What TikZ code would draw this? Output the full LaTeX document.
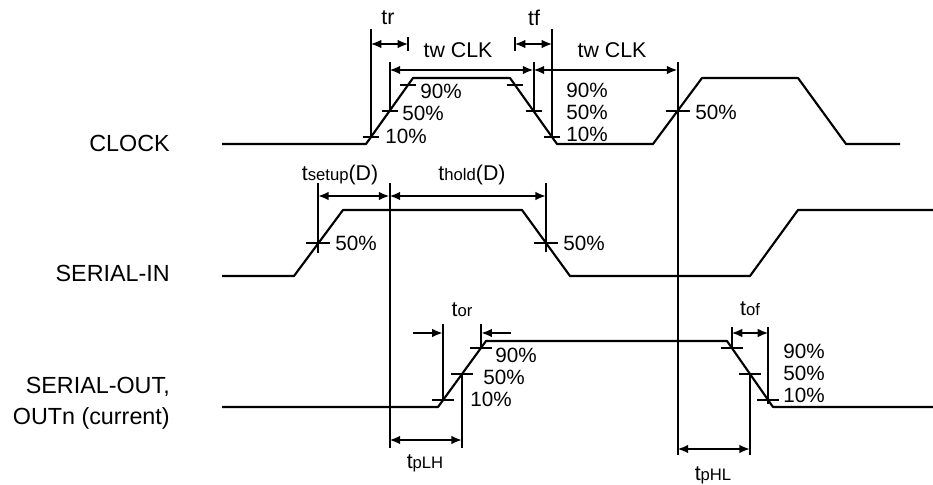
\documentclass[tikz,border=0pt]{standalone}
\usepackage{fontspec}
\setmainfont{Liberation Sans}
\usetikzlibrary{arrows.meta}
\newcommand{\smallsub}[1]{{\fontsize{12.5}{13}\selectfont #1}}
\begin{document}
\begin{tikzpicture}[x=0.75pt,y=-0.75pt,
  wave/.style={line width=1.6pt, line join=round},
  dim/.style={line width=1.5pt},
  dimarr/.style={dim, {Latex[length=8pt,width=6.5pt]}-{Latex[length=8pt,width=6.5pt]}},
  onearr/.style={dim, -{Latex[length=8pt,width=6.5pt]}},
  pct/.style={font=\fontsize{15.5}{16}\selectfont, inner sep=0pt, anchor=west},
  tlbl/.style={font=\fontsize{16}{17}\selectfont, inner sep=0pt},
  sig/.style={font=\fontsize{17.5}{20}\selectfont, inner sep=0pt, anchor=east}]
\useasboundingbox (0,0) rectangle (933,485);

% ---------- signal names ----------
\node[sig] (lclock) at (170,143) {CLOCK};
\node[sig] (lsin) at (170,273) {SERIAL-IN};
\node[sig] (lsout) at (170,387) {SERIAL-OUT,};
\node[sig] (louts) at (170,418) {OUTn (current)};

% ---------- CLOCK waveform ----------
\coordinate (c0) at (222,144);
\coordinate (c1) at (366,144);
\coordinate (c2) at (413,78);
\coordinate (c3) at (510,78);
\coordinate (c4) at (557,144);
\coordinate (c5) at (653,144);
\coordinate (c6) at (702,78);
\coordinate (c7) at (798,78);
\coordinate (c8) at (846,144);
\coordinate (c9) at (900,144);
\draw[wave] (c0) -- (c1) -- (c2) -- (c3) -- (c4) -- (c5) -- (c6) -- (c7) -- (c8) -- (c9);

\coordinate (r10) at (370.7,137.4);
\coordinate (r50) at (389.5,111);
\coordinate (r90) at (408.3,84.6);
\coordinate (f90) at (514.7,84.6);
\coordinate (f50) at (533.5,111);
\coordinate (f10) at (552.3,137.4);
\coordinate (q50) at (677.5,111);
\foreach \p in {r10,r50,r90,f90,f50,f10} \draw[dim] (\p) ++(-8,0) -- ++(16,0);
\draw[dim] (q50) ++(-12,0) -- ++(24,0);

% tr
\coordinate (trt) at (370.7,29);
\coordinate (trr) at (408.3,37);
\coordinate (trrb) at (408.3,51);
\coordinate (tra) at (370.7,44);
\coordinate (trb) at (408.3,44);
\draw[dim] (trt) -- (r10);
\draw[dim] (trr) -- (trrb);
\draw[dimarr] (tra) -- (trb);
\node[tlbl] (ltr) at (388,18) {tr};

% tf
\coordinate (tft) at (552.3,29);
\coordinate (tfl) at (514.7,37);
\coordinate (tflb) at (514.7,51);
\coordinate (tfa) at (514.7,44);
\coordinate (tfb) at (552.3,44);
\draw[dim] (tft) -- (f10);
\draw[dim] (tfl) -- (tflb);
\draw[dimarr] (tfa) -- (tfb);
\node[tlbl] (ltf) at (534,18) {tf};

% tw CLK
\coordinate (w1t) at (389.5,62);
\coordinate (w2t) at (533.5,62);
\coordinate (w3t) at (677.5,62);
\coordinate (w1a) at (389.5,70);
\coordinate (w2a) at (533.5,70);
\coordinate (w3a) at (677.5,70);
\draw[dim] (w1t) -- (r50);
\draw[dim] (w2t) -- (f50);
\draw[dimarr] (w1a) -- (w2a);
\draw[dimarr] (w2a) -- (w3a);
\node[tlbl] (ltw1) at (458,50) {tw CLK};
\node[tlbl] (ltw2) at (612,50) {tw CLK};

% percent labels (CLOCK)
\node[pct] (p1) at (420,91) {90\%};
\node[pct] (p2) at (402,113) {50\%};
\node[pct] (p3) at (385,136) {10\%};
\node[pct] (p4) at (566,90) {90\%};
\node[pct] (p5) at (566,112) {50\%};
\node[pct] (p6) at (566,134) {10\%};
\node[pct] (p7) at (695,112) {50\%};

% ---------- SERIAL-IN waveform ----------
\coordinate (s0) at (222,276);
\coordinate (s1) at (294,276);
\coordinate (s2) at (343,210);
\coordinate (s3) at (522,210);
\coordinate (s4) at (570,276);
\coordinate (s5) at (750,276);
\coordinate (s6) at (798,210);
\coordinate (s7) at (933,210);
\draw[wave] (s0) -- (s1) -- (s2) -- (s3) -- (s4) -- (s5) -- (s6) -- (s7);

\coordinate (sr50) at (318,243);
\coordinate (sf50) at (546,243);
\draw[dim] (sr50) ++(-12,0) -- ++(24,0);
\draw[dim] (sf50) ++(-12,0) -- ++(24,0);
\coordinate (sut) at (318,183);
\coordinate (sub) at (318,253);
\coordinate (hot) at (546,183);
\coordinate (hob) at (546,252);
\draw[dim] (sut) -- (sub);
\draw[dim] (hot) -- (hob);
\coordinate (sua) at (318,196);
\coordinate (mida) at (389.5,196);
\coordinate (hoa) at (546,196);
\draw[dimarr] (sua) -- (mida);
\draw[dimarr] (mida) -- (hoa);
\node[tlbl] (lsu) at (340,175) {t\smallsub{setup}(D)};
\node[tlbl] (lho) at (472,175) {t\smallsub{hold}(D)};
\node[pct] (p8) at (335,243) {50\%};
\node[pct] (p9) at (563,243) {50\%};

% long vertical references
\coordinate (v1t) at (389.5,183);
\coordinate (v1b) at (389.5,448);
\coordinate (v2b) at (677.5,455);
\draw[dim] (v1t) -- (v1b);
\draw[dim] (w3t) -- (v2b);

% ---------- SERIAL-OUT waveform ----------
\coordinate (o0) at (222,407);
\coordinate (o1) at (438,407);
\coordinate (o2) at (486,341);
\coordinate (o3) at (727,341);
\coordinate (o4) at (773,407);
\coordinate (o5) at (933,407);
\draw[wave] (o0) -- (o1) -- (o2) -- (o3) -- (o4) -- (o5);

\coordinate (or10) at (442.8,400.4);
\coordinate (or50) at (462,374);
\coordinate (or90) at (481.2,347.6);
\coordinate (of90) at (731.6,347.6);
\coordinate (of50) at (750,374);
\coordinate (of10) at (768.4,400.4);
\foreach \p in {or10,or50,or90,of90,of50,of10} \draw[dim] (\p) ++(-11,0) -- ++(22,0);

% tor
\coordinate (ort1) at (442.8,324);
\coordinate (ort2) at (481.2,324);
\coordinate (ora) at (442.8,333);
\coordinate (orb) at (481.2,333);
\coordinate (ors) at (413,333);
\coordinate (ore) at (511,333);
\draw[dim] (ort1) -- (or10);
\draw[dim] (ort2) -- (or90);
\draw[onearr] (ors) -- (ora);
\draw[onearr] (ore) -- (orb);
\node[tlbl] (ltor) at (462,310) {t\smallsub{or}};

% tof
\coordinate (oft1) at (731.6,327);
\coordinate (oft2) at (768.4,327);
\coordinate (ofb2) at (768.4,404);
\coordinate (ofa) at (731.6,333);
\coordinate (ofb) at (768.4,333);
\draw[dim] (oft1) -- (of90);
\draw[dim] (oft2) -- (ofb2);
\draw[dimarr] (ofa) -- (ofb);
\node[tlbl] (ltof) at (750,309) {t\smallsub{of}};

% tpLH
\coordinate (lhb) at (462,448);
\coordinate (lha) at (389.5,440);
\coordinate (lhc) at (462,440);
\draw[dim] (or50) -- (lhb);
\draw[dimarr] (lha) -- (lhc);
\node[tlbl] (lplh) at (425,463) {t\smallsub{pLH}};

% tpHL
\coordinate (hlb) at (750,455);
\coordinate (hla) at (677.5,449);
\coordinate (hlc) at (750,449);
\draw[dim] (of50) -- (hlb);
\draw[dimarr] (hla) -- (hlc);
\node[tlbl] (lphl) at (713,475) {t\smallsub{pHL}};

% percent labels (SERIAL-OUT)
\node[pct] (p10) at (495,355) {90\%};
\node[pct] (p11) at (483,377) {50\%};
\node[pct] (p12) at (470,399) {10\%};
\node[pct] (p13) at (783,351) {90\%};
\node[pct] (p14) at (783,373) {50\%};
\node[pct] (p15) at (783,395) {10\%};
\end{tikzpicture}
\end{document}
